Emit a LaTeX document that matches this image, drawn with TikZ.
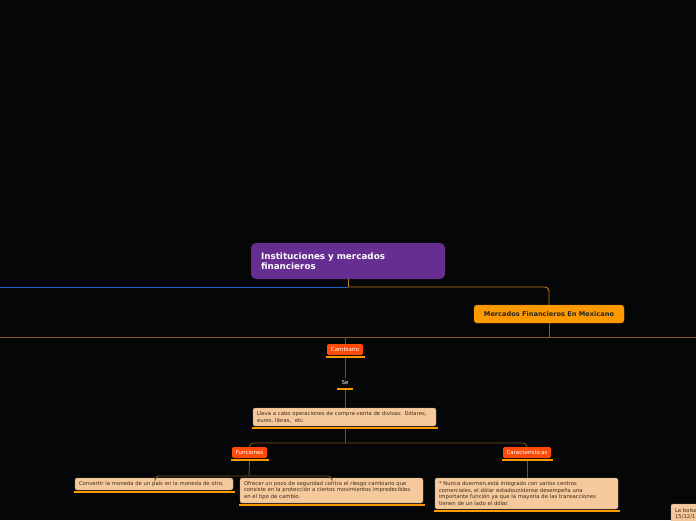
\documentclass[tikz,border=0pt]{standalone}
\usepackage{fontspec}
\setmainfont{DejaVu Sans}
\definecolor{bg}{HTML}{050608}
\definecolor{purp}{HTML}{672E91}
\definecolor{orng}{HTML}{FF9900}
\definecolor{redo}{HTML}{FF4A0A}
\definecolor{peach}{HTML}{F5C99B}
\definecolor{lineA}{HTML}{C27A1E}
\definecolor{lineB}{HTML}{8A5A20}
\definecolor{lineC}{HTML}{77501C}
\definecolor{blu}{HTML}{1F5FD0}
\definecolor{dtext}{HTML}{3A2A1A}
\tikzset{
  base/.style={anchor=north west, inner sep=0pt, outer sep=0pt},
  titlebox/.style={base, fill=purp, rounded corners=5pt, text=white, font=\bfseries\fontsize{8.8}{10}\selectfont, align=left, text width=174pt, inner xsep=10pt, minimum height=36pt},
  mainbox/.style={base, fill=orng, draw=lineA, line width=0.4pt, rounded corners=3pt, text=black!85, font=\bfseries\fontsize{6.6}{7.5}\selectfont, minimum width=150pt, minimum height=18pt},
  redbox/.style={base, fill=redo, rounded corners=2pt, text=white, font=\fontsize{5.5}{6}\selectfont, minimum height=11pt},
  peachbox/.style={base, fill=peach, draw=peach!70!black, line width=0.3pt, rounded corners=2pt, text=dtext, font=\fontsize{5.3}{6.4}\selectfont, align=left, inner xsep=4pt, inner ysep=2pt},
  bar/.style={draw=orng, line width=2.2pt},
  conA/.style={draw=lineA, line width=0.9pt},
  conB/.style={draw=lineB, line width=0.9pt},
  conC/.style={draw=lineC, line width=0.9pt, rounded corners=4pt},
}
\begin{document}
\begin{tikzpicture}[x=1pt,y=-1pt]
\fill[bg] (0,0) rectangle (696,520);
\useasboundingbox (0,0) rectangle (696,520);
\clip (0,0) rectangle (696,520);

% nodes
\node[titlebox] (title) at (251,243) {Instituciones y mercados\\financieros};
\node[mainbox] (mer) at (474,305) {Mercados Financieros En Mexicano};
\node[redbox, minimum width=36pt] (camb) at (327,344) {Cambiario};
\node[base, text=white, font=\fontsize{5.5}{6}\selectfont, minimum width=16pt, minimum height=9pt] (se) at (337,378) {Se};
\node[peachbox, text width=175pt, minimum height=18pt] (lleva) at (253,408) {Lleva a cabo operaciones de compra-venta de divisas: Dólares,\\euros, libras,\ \ etc.};
\node[redbox, minimum width=35pt] (fun) at (232,447) {Funciones};
\node[redbox, minimum width=48pt] (car) at (503,447) {Características};
\node[peachbox, text width=150pt, minimum height=12pt] (conv) at (75,478) {Convertir la moneda de un país en la moneda de otro.};
\node[peachbox, text width=175pt, minimum height=25pt] (ofre) at (240,478) {Ofrecer un poco de seguridad contra el riesgo cambiario que\\consiste en la protección a ciertos movimientos impredecibles\\en el tipo de cambio.};
\node[peachbox, text width=175pt, minimum height=31pt] (nunca) at (435,478) {* Nunca duermen,está integrado con varios centros\\comerciales, el dólar estadounidense desempeña una\\importante función ya que la mayoría de las transacciones\\tienen de un lado el dólar.};
\node[peachbox, text width=40pt, minimum height=20pt] (bolsa) at (671,504) {La bolsa\\15/12/1};

% coordinates
\coordinate (j1) at (348,287);
\coordinate (lw) at (0,287);
\coordinate (l2) at (0,337);
\coordinate (r2) at (696,337);
\coordinate (j2) at (345,337);
\coordinate (j3) at (345,443);
\coordinate (j4) at (249,476);

% connectors
\draw[conA] (title.south -| j1) -- (j1);
\draw[draw=blu, line width=0.9pt] (j1) -- (lw);
\draw[conA, rounded corners=4pt] (j1) -- (549,287) -- (mer.north);
\draw[conB] (mer.south) -- (549,337);
\draw[conB] (l2) -- (r2);
\draw[conC] (j2) -- (camb.north);
\draw[conC] (camb.south) ++(0,3) -- (se.north);
\draw[conC] (se.south) ++(0,2) -- (lleva.north -| se.south);
\draw[conC] (lleva.south -| j3) ++(0,3) -- (j3);
\draw[conC] (j3) -- (fun.north |- j3) -- (fun.north);
\draw[conC] (j3) -- (car.north |- j3) -- (car.north);
\draw[conC] (fun.south) ++(0,3) -- (j4);
\draw[conC] (j4) -- (155,476) -- (conv.north -| 155,0);
\draw[conC] (j4) -- (332,476) -- (ofre.north -| 332,0);
\draw[conC] (car.south) ++(0,3) -- (nunca.north -| car.south);

% underline bars
\foreach \n in {camb,lleva,fun,car,conv,ofre,nunca}{
  \draw[bar] ([xshift=-1.5pt,yshift=-1.6pt]\n.south west) -- ([xshift=1.5pt,yshift=-1.6pt]\n.south east);
}
\draw[bar] ([yshift=-1.6pt]se.south west) -- ([yshift=-1.6pt]se.south east);
\end{tikzpicture}
\end{document}
